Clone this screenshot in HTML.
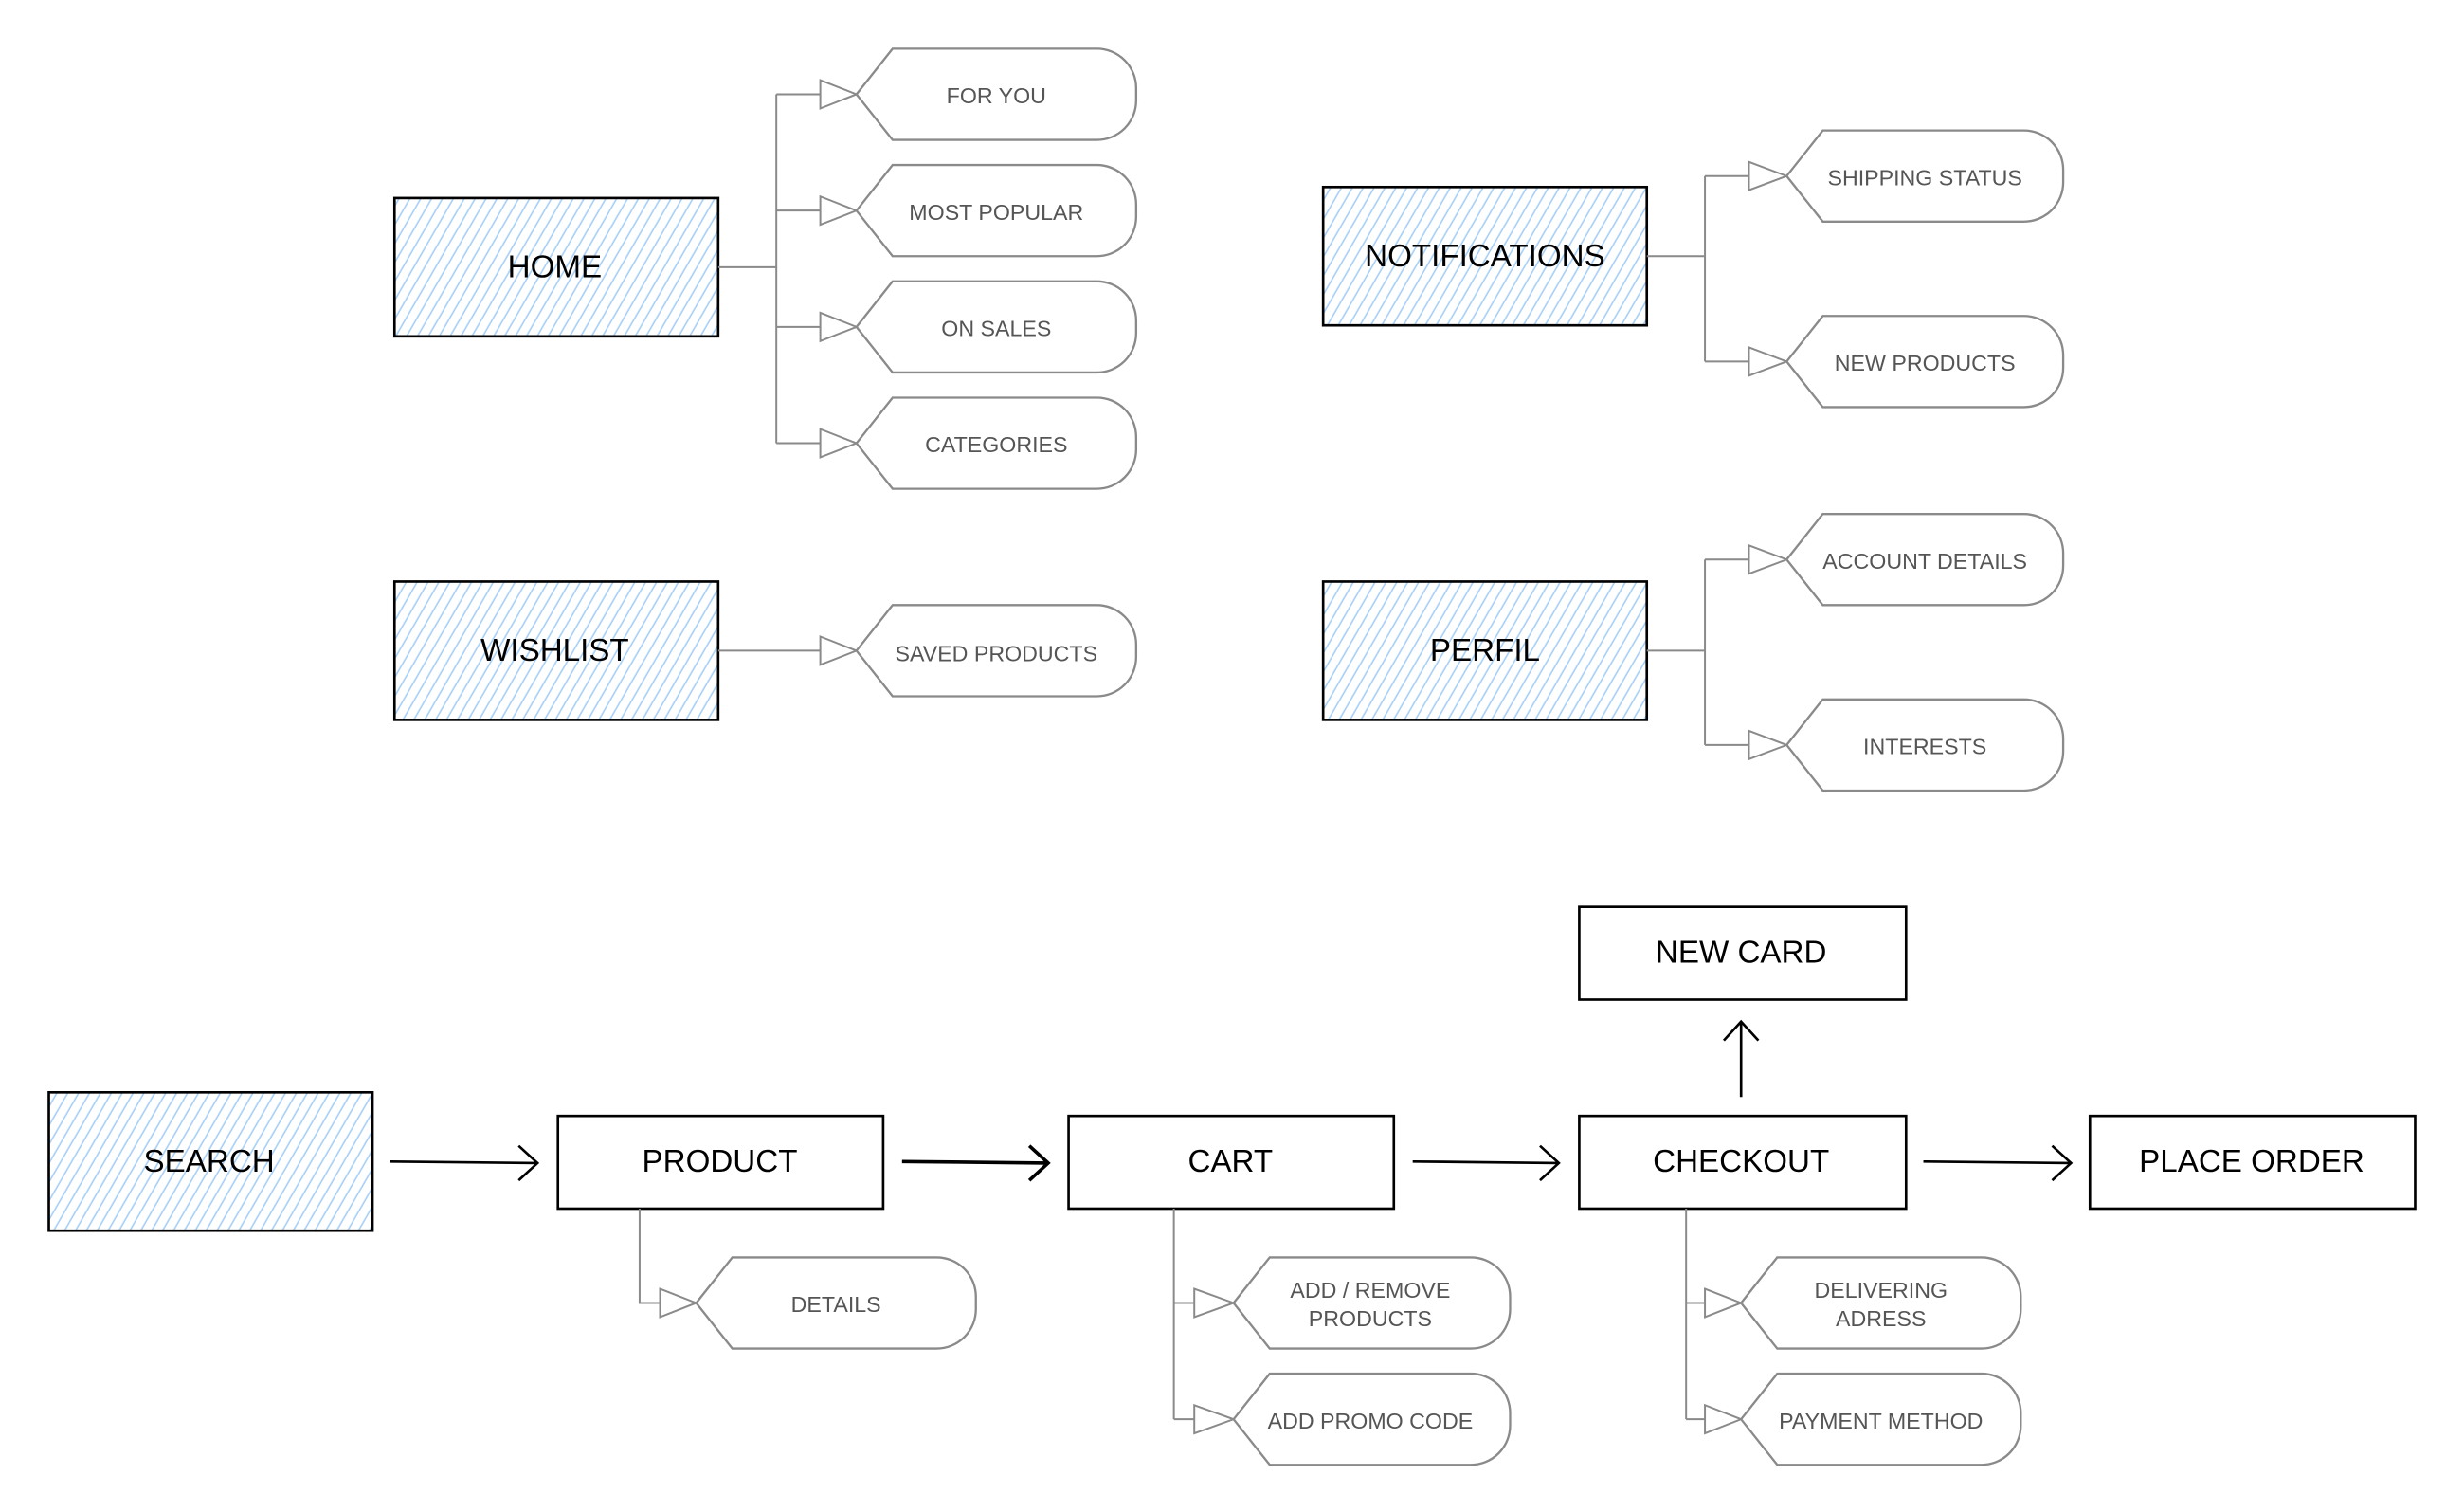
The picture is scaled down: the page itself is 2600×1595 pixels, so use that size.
<!DOCTYPE html>
<html><head><meta charset="utf-8"><style>
html,body{margin:0;padding:0;background:#fff;}
svg{display:block;}
.box{stroke:#000;stroke-width:1.6;}
.bt{font-family:"Liberation Sans",sans-serif;font-size:20px;fill:#000;text-anchor:middle;dominant-baseline:central;}
.pt{font-family:"Liberation Sans",sans-serif;font-size:14px;fill:#555;text-anchor:middle;dominant-baseline:central;}
.g{fill:none;stroke:#8a8a8a;stroke-width:1.2;}
.pill{fill:#fff;stroke:#8a8a8a;stroke-width:1.4;}
.tri{fill:#fff;stroke:#8a8a8a;stroke-width:1.2;}
.ar{fill:none;stroke:#000;stroke-width:1.6;}
</style></head><body>
<svg width="2600" height="1595" viewBox="0 0 1568 962" xmlns="http://www.w3.org/2000/svg">
<defs>
<pattern id="h" patternUnits="userSpaceOnUse" width="6" height="6" patternTransform="rotate(30)">
<rect x="0" y="0" width="6" height="6" fill="#fff"/>
<line x1="1" y1="0" x2="1" y2="6" stroke="#a9d1f7" stroke-width="1"/>
</pattern>
</defs>

<!-- hatched boxes -->
<rect x="251" y="126" width="206" height="88" fill="url(#h)" class="box"/>
<text x="353" y="170" class="bt">HOME</text>
<rect x="842" y="119" width="206" height="88" fill="url(#h)" class="box"/>
<text x="945" y="163" class="bt">NOTIFICATIONS</text>
<rect x="251" y="370" width="206" height="88" fill="url(#h)" class="box"/>
<text x="353" y="414" class="bt">WISHLIST</text>
<rect x="842" y="370" width="206" height="88" fill="url(#h)" class="box"/>
<text x="945" y="414" class="bt">PERFIL</text>
<rect x="31" y="695" width="206" height="88" fill="url(#h)" class="box"/>
<text x="133" y="739" class="bt">SEARCH</text>

<!-- plain boxes -->
<rect x="355" y="710" width="207" height="59" fill="#fff" class="box"/>
<text x="458" y="739" class="bt">PRODUCT</text>
<rect x="680" y="710" width="207" height="59" fill="#fff" class="box"/>
<text x="783" y="739" class="bt">CART</text>
<rect x="1005" y="710" width="208" height="59" fill="#fff" class="box"/>
<text x="1108" y="739" class="bt">CHECKOUT</text>
<rect x="1330" y="710" width="207" height="59" fill="#fff" class="box"/>
<text x="1433" y="739" class="bt">PLACE ORDER</text>
<rect x="1005" y="577" width="208" height="59" fill="#fff" class="box"/>
<text x="1108" y="606" class="bt">NEW CARD</text>

<!-- black arrows -->
<path class="ar" d="M248 739 L341 740 M330 729 L342 740 L330 751"/>
<path class="ar" d="M574 739 L666 740 M655 729 L667 740 L655 751" style="stroke-width:2.2"/>
<path class="ar" d="M899 739 L991 740 M980 729 L992 740 L980 751"/>
<path class="ar" d="M1224 739 L1317 740 M1306 729 L1318 740 L1306 751"/>
<path class="ar" d="M1108 698 L1108 651 M1097 662 L1108 650 L1119 662"/>

<!-- gray connectors -->
<path class="g" d="M457 170 L494 170 M494 60 L494 282 M494 60 L522 60 M494 134 L522 134 M494 208 L522 208 M494 282 L522 282"/>
<path class="g" d="M1048 163 L1085 163 M1085 112 L1085 230 M1085 112 L1113 112 M1085 230 L1113 230"/>
<path class="g" d="M457 414 L522 414"/>
<path class="g" d="M1048 414 L1085 414 M1085 356 L1085 474 M1085 356 L1113 356 M1085 474 L1113 474"/>
<path class="g" d="M407 769 L407 829 L420 829"/>
<path class="g" d="M747 769 L747 903 M747 829 L760 829 M747 903 L760 903"/>
<path class="g" d="M1073 769 L1073 903 M1073 829 L1085 829 M1073 903 L1085 903"/>

<!-- triangles -->
<g class="tri">
<path d="M522 51 L545 60 L522 69 Z"/>
<path d="M522 125 L545 134 L522 143 Z"/>
<path d="M522 199 L545 208 L522 217 Z"/>
<path d="M522 273 L545 282 L522 291 Z"/>
<path d="M522 405 L545 414 L522 423 Z"/>
<path d="M1113 103 L1137 112 L1113 121 Z"/>
<path d="M1113 221 L1137 230 L1113 239 Z"/>
<path d="M1113 347 L1137 356 L1113 365 Z"/>
<path d="M1113 465 L1137 474 L1113 483 Z"/>
<path d="M420 820 L443 829 L420 838 Z"/>
<path d="M760 820 L785 829 L760 838 Z"/>
<path d="M760 894 L785 903 L760 912 Z"/>
<path d="M1085 820 L1108 829 L1085 838 Z"/>
<path d="M1085 894 L1108 903 L1085 912 Z"/>
</g>

<!-- pills -->
<g class="pill">
<path d="M545 60 L568 31 L698 31 A25 25 0 0 1 723 56 L723 64 A25 25 0 0 1 698 89 L568 89 Z"/>
<path d="M545 134 L568 105 L698 105 A25 25 0 0 1 723 130 L723 138 A25 25 0 0 1 698 163 L568 163 Z"/>
<path d="M545 208 L568 179 L698 179 A25 25 0 0 1 723 204 L723 212 A25 25 0 0 1 698 237 L568 237 Z"/>
<path d="M545 282 L568 253 L698 253 A25 25 0 0 1 723 278 L723 286 A25 25 0 0 1 698 311 L568 311 Z"/>
<path d="M545 414 L568 385 L698 385 A25 25 0 0 1 723 410 L723 418 A25 25 0 0 1 698 443 L568 443 Z"/>
<path d="M1137 112 L1160 83 L1288 83 A25 25 0 0 1 1313 108 L1313 116 A25 25 0 0 1 1288 141 L1160 141 Z"/>
<path d="M1137 230 L1160 201 L1288 201 A25 25 0 0 1 1313 226 L1313 234 A25 25 0 0 1 1288 259 L1160 259 Z"/>
<path d="M1137 356 L1160 327 L1288 327 A25 25 0 0 1 1313 352 L1313 360 A25 25 0 0 1 1288 385 L1160 385 Z"/>
<path d="M1137 474 L1160 445 L1288 445 A25 25 0 0 1 1313 470 L1313 478 A25 25 0 0 1 1288 503 L1160 503 Z"/>
<path d="M443 829 L466 800 L596 800 A25 25 0 0 1 621 825 L621 833 A25 25 0 0 1 596 858 L466 858 Z"/>
<path d="M785 829 L808 800 L936 800 A25 25 0 0 1 961 825 L961 833 A25 25 0 0 1 936 858 L808 858 Z"/>
<path d="M785 903 L808 874 L936 874 A25 25 0 0 1 961 899 L961 907 A25 25 0 0 1 936 932 L808 932 Z"/>
<path d="M1108 829 L1131 800 L1261 800 A25 25 0 0 1 1286 825 L1286 833 A25 25 0 0 1 1261 858 L1131 858 Z"/>
<path d="M1108 903 L1131 874 L1261 874 A25 25 0 0 1 1286 899 L1286 907 A25 25 0 0 1 1261 932 L1131 932 Z"/>
</g>

<text x="634" y="61" class="pt">FOR YOU</text>
<text x="634" y="135" class="pt">MOST POPULAR</text>
<text x="634" y="209" class="pt">ON SALES</text>
<text x="634" y="283" class="pt">CATEGORIES</text>
<text x="634" y="416" class="pt">SAVED PRODUCTS</text>
<text x="1225" y="113" class="pt">SHIPPING STATUS</text>
<text x="1225" y="231" class="pt">NEW PRODUCTS</text>
<text x="1225" y="357" class="pt">ACCOUNT DETAILS</text>
<text x="1225" y="475" class="pt">INTERESTS</text>
<text x="532" y="830" class="pt">DETAILS</text>
<text x="872" y="821" class="pt">ADD / REMOVE</text>
<text x="872" y="839" class="pt">PRODUCTS</text>
<text x="872" y="904" class="pt">ADD PROMO CODE</text>
<text x="1197" y="821" class="pt">DELIVERING</text>
<text x="1197" y="839" class="pt">ADRESS</text>
<text x="1197" y="904" class="pt">PAYMENT METHOD</text>
</svg>
</body></html>
